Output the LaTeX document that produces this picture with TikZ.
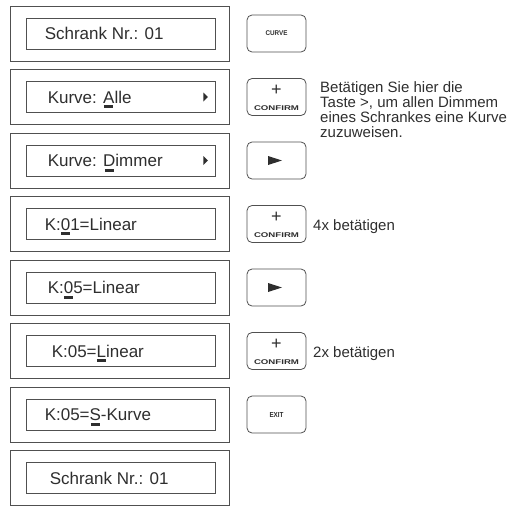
\documentclass[tikz,border=0pt]{standalone}
\usepackage{fontspec}
\setmainfont{Liberation Sans}
\usepackage{graphicx}
\definecolor{ink}{HTML}{2E2E2E}
\definecolor{frame}{HTML}{505050}
\newsavebox\curbox
\newcommand\curmark[1]{\sbox\curbox{#1}\rlap{\hbox to \wd\curbox{\hss\rule[-5pt]{9pt}{3pt}\hss}}\usebox\curbox{}}
\tikzset{
  outerbox/.style={draw=frame, line width=0.8pt, minimum width=219pt, minimum height=55pt, inner sep=0pt},
  innerbox/.style={draw=frame, line width=0.9pt, minimum width=189pt, minimum height=31pt, inner sep=0pt},
  lcdtext/.style={anchor=base west, inner sep=0pt, text=ink, font=\fontsize{17}{20}\selectfont},
  btn/.style={draw=frame, line width=0.8pt, rounded corners=5pt, minimum width=59pt, minimum height=37pt, inner sep=0pt},
  btnlabel/.style={inner sep=0pt, text=ink, font=\bfseries},
  plus/.style={inner sep=0pt, text=ink, font=\fontsize{18}{18}\selectfont},
  note/.style={anchor=base west, inner sep=0pt, text=ink, align=left, font=\fontsize{15}{15}\selectfont},
  tri/.style={fill=ink}
}
\begin{document}
\begin{tikzpicture}[x=1pt,y=-1pt]
\useasboundingbox (0,0) rectangle (521,506);
% rows: centers 33.5, 97, 160.5, 224, 287.5, 351, 414.5, 478
\node[outerbox] (o1) at (119.5,33.5) {};
\node[innerbox] (i1) at (120.5,33.5) {};
\node[lcdtext] (t1) at ([xshift=19pt,yshift=-6pt]i1.west) {Schrank Nr.: 01};

\node[outerbox] (o2) at (119.5,97) {};
\node[innerbox] (i2) at (120.5,97) {};
\node[lcdtext] (t2) at ([xshift=22pt,yshift=-6pt]i2.west) {Kurve: \curmark{A}lle};
\fill[tri] ([xshift=-12pt,yshift=4.5pt]i2.east) -- ([xshift=-7.5pt]i2.east) -- ([xshift=-12pt,yshift=-4.5pt]i2.east) -- cycle;

\node[outerbox] (o3) at (119.5,160.5) {};
\node[innerbox] (i3) at (120.5,160.5) {};
\node[lcdtext] (t3) at ([xshift=22pt,yshift=-6pt]i3.west) {Kurve: \curmark{D}immer};
\fill[tri] ([xshift=-12pt,yshift=4.5pt]i3.east) -- ([xshift=-7.5pt]i3.east) -- ([xshift=-12pt,yshift=-4.5pt]i3.east) -- cycle;

\node[outerbox] (o4) at (119.5,224) {};
\node[innerbox] (i4) at (120.5,224) {};
\node[lcdtext] (t4) at ([xshift=19pt,yshift=-6pt]i4.west) {K:\curmark{0}1=Linear};

\node[outerbox] (o5) at (119.5,287.5) {};
\node[innerbox] (i5) at (120.5,287.5) {};
\node[lcdtext] (t5) at ([xshift=22pt,yshift=-6pt]i5.west) {K:\curmark{0}5=Linear};

\node[outerbox] (o6) at (119.5,351) {};
\node[innerbox] (i6) at (120.5,351) {};
\node[lcdtext] (t6) at ([xshift=26pt,yshift=-6pt]i6.west) {K:05=\curmark{L}inear};

\node[outerbox] (o7) at (119.5,414.5) {};
\node[innerbox] (i7) at (120.5,414.5) {};
\node[lcdtext] (t7) at ([xshift=19pt,yshift=-6pt]i7.west) {K:05=\curmark{S}-Kurve};

\node[outerbox] (o8) at (119.5,478) {};
\node[innerbox] (i8) at (120.5,478) {};
\node[lcdtext] (t8) at ([xshift=24pt,yshift=-6pt]i8.west) {Schrank Nr.: 01};

% buttons
\node[btn] (b1) at (276.5,33.5) {};
\node[btnlabel] (b1l) at (b1.center) {\resizebox{22pt}{4.8pt}{CURVE}};

\node[btn] (b2) at (276.5,97) {};
\node[plus] (b2p) at ([yshift=6.5pt]b2.center) {+};
\node[btnlabel] (b2c) at ([yshift=-11.5pt]b2.center) {\resizebox{45pt}{4.8pt}{CONFIRM}};

\node[btn] (b3) at (276.5,160.5) {};
\fill[tri] ([xshift=-8.5pt,yshift=4.5pt]b3.center) -- ([xshift=5.5pt,yshift=0pt]b3.center) -- ([xshift=-8.5pt,yshift=-4.5pt]b3.center) -- cycle;

\node[btn] (b4) at (276.5,224) {};
\node[plus] (b4p) at ([yshift=6.5pt]b4.center) {+};
\node[btnlabel] (b4c) at ([yshift=-11.5pt]b4.center) {\resizebox{45pt}{4.8pt}{CONFIRM}};

\node[btn] (b5) at (276.5,287.5) {};
\fill[tri] ([xshift=-8.5pt,yshift=4.5pt]b5.center) -- ([xshift=5.5pt,yshift=0pt]b5.center) -- ([xshift=-8.5pt,yshift=-4.5pt]b5.center) -- cycle;

\node[btn] (b6) at (276.5,351) {};
\node[plus] (b6p) at ([yshift=6.5pt]b6.center) {+};
\node[btnlabel] (b6c) at ([yshift=-11.5pt]b6.center) {\resizebox{45pt}{4.8pt}{CONFIRM}};

\node[btn] (b7) at (276.5,414.5) {};
\node[btnlabel] (b7l) at (b7.center) {\resizebox{14pt}{5pt}{EXIT}};

% notes (base anchor = baseline of last line)
\node[note] (n2) at (320,137) {Betätigen Sie hier die\\Taste >, um allen Dimmem\\eines Schrankes eine Kurve\\zuzuweisen.};
\node[note] (n4) at (313,230) {4x betätigen};
\node[note] (n6) at (313,357) {2x betätigen};
\end{tikzpicture}
\end{document}
